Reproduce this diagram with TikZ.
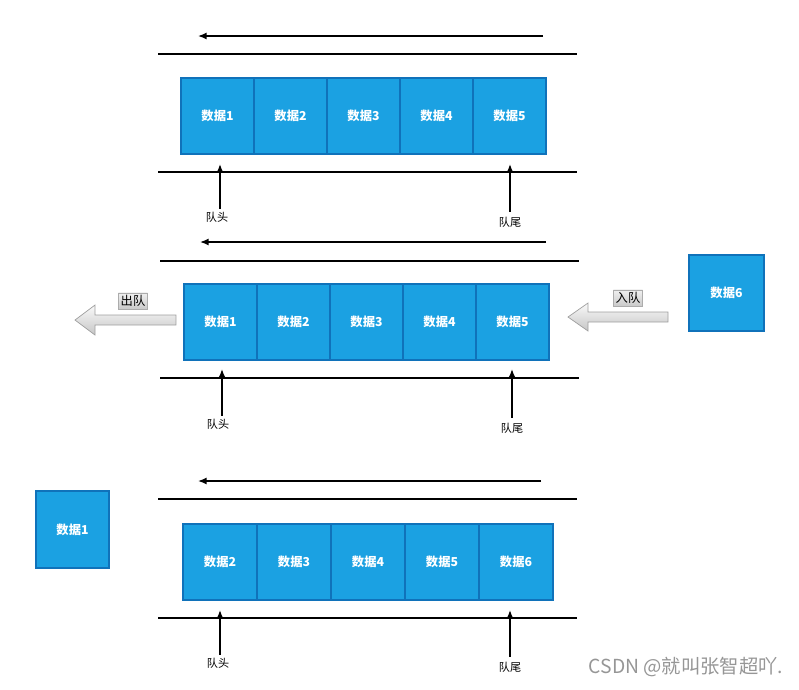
\documentclass[tikz,border=0pt]{standalone}
\usepackage{fontspec}
\setmainfont{Noto Sans CJK SC}
\usetikzlibrary{arrows.meta,positioning}
\definecolor{caseBleu}{HTML}{1BA1E2}
\definecolor{bordBleu}{HTML}{1072BA}
\definecolor{grisW}{RGB}{150,150,150}
\tikzset{
  casebox/.style={rectangle, draw=bordBleu, line width=1.2pt, fill=caseBleu, text=white,
                  font=\bfseries\fontsize{10.5}{12}\selectfont,
                  minimum width=2.19cm, minimum height=2.28cm, inner sep=0pt, outer sep=0pt},
  rail/.style={line width=1.8pt},
  sens/.style={-{Latex[length=2.6mm,width=2.1mm]}, line width=1.2pt},
  etiq/.style={font=\fontsize{9.5}{11}\selectfont, inner sep=0.08cm},
  fleche/.style={draw=gray!75, line width=0.6pt, top color=gray!4, bottom color=gray!45},
  tag/.style={draw=gray!65, line width=0.5pt, top color=gray!12, bottom color=gray!42,
              inner sep=2pt, font=\fontsize{10.5}{11}\selectfont},
}
\begin{document}
\begin{tikzpicture}[x=0.03cm, y=-0.03cm]
        \useasboundingbox (0,0) rectangle (799,690);
        % ligne 1 : file initiale
        \coordinate (s1a) at (543,36); \coordinate (s1b) at (198,36);
        \draw[sens] (s1a) -- (s1b);
        \draw[rail] (158,54) -- (577,54);
        \node[casebox, anchor=north west] (a1) at (181,78) {数据1};
        \node[casebox, right=0pt of a1] (a2) {数据2};
        \node[casebox, right=0pt of a2] (a3) {数据3};
        \node[casebox, right=0pt of a3] (a4) {数据4};
        \node[casebox, right=0pt of a4] (a5) {数据5};
        \draw[rail] (158,172) -- (577,172);
        \node[etiq] (h1) at (217,217) {队头};
        \node[etiq] (q1) at (510,222) {队尾};
        \coordinate (ph1) at (220,164); \coordinate (pq1) at (510,164);
        \draw[sens] (h1.north -| ph1) -- (ph1);
        \draw[sens] ([yshift=2pt]q1.north -| pq1) -- (pq1);

        % ligne 2 : sortie et entree
        \coordinate (s2a) at (546,242); \coordinate (s2b) at (200,242);
        \draw[sens] (s2a) -- (s2b);
        \draw[rail] (160,261) -- (579,261);
        \node[casebox, anchor=north west] (b1) at (184,284) {数据1};
        \node[casebox, right=0pt of b1] (b2) {数据2};
        \node[casebox, right=0pt of b2] (b3) {数据3};
        \node[casebox, right=0pt of b3] (b4) {数据4};
        \node[casebox, right=0pt of b4] (b5) {数据5};
        \draw[rail] (160,378) -- (579,378);
        \node[etiq] (h2) at (218,424) {队头};
        \node[etiq] (q2) at (512,428) {队尾};
        \coordinate (ph2) at (222,369); \coordinate (pq2) at (512,369);
        \draw[sens] (h2.north -| ph2) -- (ph2);
        \draw[sens] ([yshift=2pt]q2.north -| pq2) -- (pq2);
        \shade[fleche] (176,315) -- (95,315) -- (95,305) -- (75,320) -- (95,335)
                       -- (95,325) -- (176,325) -- cycle;
        \node[tag] (sortie) at (133,301) {出队};
        \shade[fleche] (668,312) -- (588,312) -- (588,303) -- (568,317) -- (588,331)
                       -- (588,322) -- (668,322) -- cycle;
        \node[tag] (entree) at (628,298) {入队};
        \node[casebox, anchor=north west, minimum width=2.25cm] (b6) at (689,255) {数据6};

        % ligne 3 : apres
        \coordinate (s3a) at (541,481); \coordinate (s3b) at (198,481);
        \draw[sens] (s3a) -- (s3b);
        \draw[rail] (158,499) -- (577,499);
        \node[casebox, anchor=north west, minimum width=2.22cm] (c1) at (183,524) {数据2};
        \node[casebox, minimum width=2.22cm, right=0pt of c1] (c2) {数据3};
        \node[casebox, minimum width=2.22cm, right=0pt of c2] (c3) {数据4};
        \node[casebox, minimum width=2.22cm, right=0pt of c3] (c4) {数据5};
        \node[casebox, minimum width=2.22cm, right=0pt of c4] (c5) {数据6};
        \draw[rail] (158,618) -- (577,618);
        \node[etiq] (h3) at (218,663) {队头};
        \node[etiq] (q3) at (510,667) {队尾};
        \coordinate (ph3) at (220,610); \coordinate (pq3) at (510,610);
        \draw[sens] (h3.north -| ph3) -- (ph3);
        \draw[sens] ([yshift=2pt]q3.north -| pq3) -- (pq3);
        \node[casebox, anchor=north west, minimum width=2.19cm, minimum height=2.31cm] (c0) at (36,491) {数据1};

        \node[text=grisW, font=\fontsize{16.5}{18}\selectfont] (wm) at (686,667) {CSDN @就叫张智超吖.};
      \end{tikzpicture}
\end{document}
